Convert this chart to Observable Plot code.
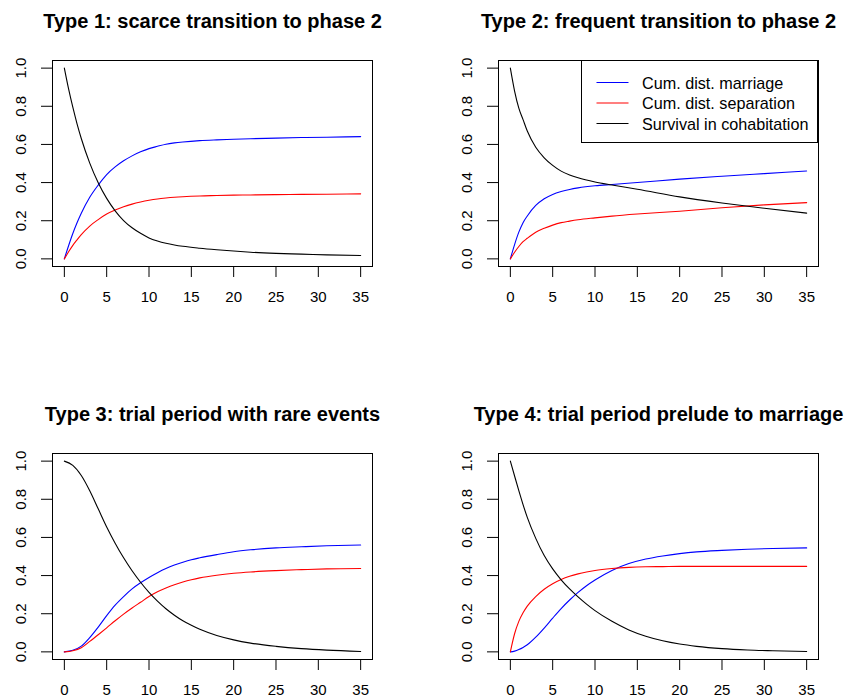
<!DOCTYPE html>
<html>
<head>
<meta charset="utf-8">
<script src="https://cdn.jsdelivr.net/npm/d3@7"></script>
<script src="https://cdn.jsdelivr.net/npm/@observablehq/plot@0.6"></script>
<style>
  html, body { margin: 0; padding: 0; background: #fff; overflow: hidden; }
  #root { position: relative; width: 847px; height: 700px; background: #fff; font-family: "Liberation Sans", Arial, sans-serif; }
  .panel { position: absolute; }
  .legend { position: absolute; border: 1px solid #000; background: #fff; box-sizing: border-box; }
  .legend .row { position: absolute; height: 20px; line-height: 20px; font-size: 16.2px; color: #000; white-space: nowrap; }
  .legend svg { position: absolute; left: 0; top: 0; overflow: visible; }
</style>
</head>
<body>
<div id="root"></div>
<script>
// ---- data ----
const xTicks = [0, 5, 10, 15, 20, 25, 30, 35];
const yTicks = [0, 0.2, 0.4, 0.6, 0.8, 1.0];
const titles = [
  "Type 1: scarce transition to phase 2",
  "Type 2: frequent transition to phase 2",
  "Type 3: trial period with rare events",
  "Type 4: trial period prelude to marriage"
];
const seriesNames = ["Cum. dist. marriage", "Cum. dist. separation", "Survival in cohabitation"];
const seriesColors = ["#0000FF", "#FF0000", "#000000"];

// Type 1
const t1 = [0, 0.5, 1, 1.5, 2, 3, 4, 5, 6, 7, 8, 9, 10, 11, 12, 13, 14, 16, 18, 20, 22, 25, 28, 31, 35];
const marriage1 = [0, 0.069, 0.133, 0.189, 0.239, 0.323, 0.387, 0.442, 0.482, 0.514, 0.54, 0.561, 0.578, 0.59, 0.601, 0.608, 0.613, 0.62, 0.624, 0.627, 0.63, 0.633, 0.636, 0.638, 0.641];
const separation1 = [0, 0.037, 0.071, 0.1, 0.127, 0.172, 0.206, 0.235, 0.256, 0.273, 0.287, 0.298, 0.307, 0.314, 0.319, 0.323, 0.326, 0.33, 0.332, 0.334, 0.335, 0.337, 0.338, 0.339, 0.341];
const survival1 = [1, 0.891, 0.795, 0.708, 0.631, 0.502, 0.399, 0.317, 0.252, 0.201, 0.163, 0.134, 0.11, 0.094, 0.082, 0.073, 0.066, 0.056, 0.048, 0.041, 0.035, 0.029, 0.025, 0.021, 0.018];

// Type 2
const t2 = [0, 0.5, 1, 1.5, 2, 3, 4, 5, 6, 7, 8, 10, 12, 15, 20, 25, 30, 35];
const marriage2 = [0, 0.075, 0.14, 0.19, 0.225, 0.28, 0.315, 0.338, 0.353, 0.364, 0.372, 0.383, 0.39, 0.4, 0.418, 0.433, 0.447, 0.461];
const separation2 = [0, 0.035, 0.065, 0.09, 0.108, 0.14, 0.16, 0.177, 0.19, 0.198, 0.205, 0.215, 0.224, 0.235, 0.25, 0.268, 0.283, 0.295];
const survival2 = [1, 0.88, 0.79, 0.73, 0.67, 0.585, 0.53, 0.49, 0.46, 0.44, 0.425, 0.403, 0.387, 0.365, 0.325, 0.293, 0.265, 0.24];

// Type 3
const t3 = [0, 1, 2, 3, 4, 5, 6, 7, 8, 9, 10, 11, 12, 13, 14, 15, 16, 18, 20, 22, 25, 28, 31, 35];
const marriage3 = [0, 0.008, 0.03, 0.075, 0.13, 0.19, 0.245, 0.29, 0.33, 0.362, 0.39, 0.415, 0.437, 0.455, 0.47, 0.483, 0.493, 0.51, 0.525, 0.535, 0.545, 0.551, 0.556, 0.56];
const separation3 = [0, 0.006, 0.022, 0.055, 0.09, 0.126, 0.163, 0.198, 0.23, 0.26, 0.29, 0.315, 0.335, 0.352, 0.366, 0.378, 0.388, 0.402, 0.412, 0.419, 0.426, 0.431, 0.435, 0.437];
const survival3 = [1, 0.978, 0.925, 0.845, 0.75, 0.655, 0.57, 0.493, 0.425, 0.365, 0.312, 0.266, 0.226, 0.192, 0.163, 0.139, 0.118, 0.086, 0.063, 0.046, 0.029, 0.017, 0.009, 0.002];

// Type 4
const t4 = [0, 0.5, 1, 1.5, 2, 3, 4, 5, 6, 7, 8, 9, 10, 12, 14, 16, 18, 20, 22, 25, 28, 31, 35];
const marriage4 = [0, 0.004, 0.012, 0.023, 0.037, 0.077, 0.125, 0.177, 0.227, 0.272, 0.312, 0.347, 0.377, 0.427, 0.463, 0.487, 0.503, 0.515, 0.524, 0.532, 0.538, 0.542, 0.545];
const separation4 = [0, 0.095, 0.16, 0.205, 0.24, 0.29, 0.328, 0.357, 0.379, 0.396, 0.409, 0.419, 0.427, 0.437, 0.443, 0.446, 0.447, 0.448, 0.448, 0.448, 0.448, 0.448, 0.448];
const survival4 = [1, 0.922, 0.845, 0.772, 0.705, 0.595, 0.505, 0.435, 0.378, 0.33, 0.288, 0.25, 0.216, 0.16, 0.115, 0.082, 0.058, 0.041, 0.029, 0.017, 0.01, 0.006, 0.002];

const panelsData = [
  {t: t1, s: [marriage1, separation1, survival1]},
  {t: t2, s: [marriage2, separation2, survival2]},
  {t: t3, s: [marriage3, separation3, survival3]},
  {t: t4, s: [marriage4, separation4, survival4]}
];

// ---- layout ----
const layouts = [
  {left: 0,   top: 0,   width: 423, ml: 52, mr: 51},
  {left: 423, top: 0,   width: 424, ml: 75, mr: 29},
  {left: 0,   top: 393, width: 423, ml: 52, mr: 51},
  {left: 423, top: 393, width: 424, ml: 75, mr: 29}
];
const FONT = "'Liberation Sans', Arial, sans-serif";
const root = document.getElementById("root");

panelsData.forEach((pd, i) => {
  const L = layouts[i];
  const rows = [];
  pd.s.forEach((vals, k) => {
    pd.t.forEach((t, j) => rows.push({t, v: vals[j], series: seriesNames[k]}));
  });
  const chart = Plot.plot({
    width: L.width,
    height: 310,
    marginLeft: L.ml,
    marginRight: L.mr,
    marginTop: 60,
    marginBottom: 44,
    style: {fontFamily: FONT, fontSize: "15px", color: "#000", background: "#fff", overflow: "visible"},
    x: {domain: [-1.4, 36.4]},
    y: {domain: [-0.04, 1.04]},
    color: {domain: seriesNames, range: seriesColors},
    marks: [
      Plot.axisX({ticks: xTicks, tickSize: 11, tickPadding: 14, tickFormat: d => String(d), label: null, stroke: "#000", fill: "#000"}),
      Plot.axisY({ticks: yTicks, tickSize: 11, tickFormat: () => "", label: null, stroke: "#000"}),
      Plot.text(yTicks, {y: d => d, text: d => d.toFixed(1), frameAnchor: "left", rotate: -90, textAnchor: "middle", lineAnchor: "bottom", dx: -27, fill: "#000"}),
      Plot.line(rows, {x: "t", y: "v", z: "series", stroke: "series", strokeWidth: 1.1, curve: "monotone-x"}),
      Plot.frame({stroke: "#000", strokeWidth: 1}),
      Plot.text([titles[i]], {frameAnchor: "top", dy: -47, lineAnchor: "top", text: d => d, fontSize: 20, fontWeight: "bold", fill: "#000"})
    ]
  });
  const div = document.createElement("div");
  div.className = "panel";
  div.style.left = L.left + "px";
  div.style.top = L.top + "px";
  div.appendChild(chart);
  root.appendChild(div);
});

// legend for panel 2 (top right)
const legend = document.createElement("div");
legend.className = "legend";
legend.style.left = "581px";
legend.style.top = "60px";
legend.style.width = "237px";
legend.style.height = "83px";
const NS = "http://www.w3.org/2000/svg";
const sv = document.createElementNS(NS, "svg");
sv.setAttribute("width", "60");
sv.setAttribute("height", "80");
seriesNames.forEach((name, k) => {
  const cy = 21.5 + k * 20.5;
  const ln = document.createElementNS(NS, "line");
  ln.setAttribute("x1", "14.5");
  ln.setAttribute("x2", "46.5");
  ln.setAttribute("y1", String(cy));
  ln.setAttribute("y2", String(cy));
  ln.setAttribute("stroke", seriesColors[k]);
  ln.setAttribute("stroke-width", "1.1");
  sv.appendChild(ln);
  const row = document.createElement("div");
  row.className = "row";
  row.style.left = "60px";
  row.style.top = (cy - 10) + "px";
  row.textContent = name;
  legend.appendChild(row);
});
legend.appendChild(sv);
root.appendChild(legend);
</script>
</body>
</html>
